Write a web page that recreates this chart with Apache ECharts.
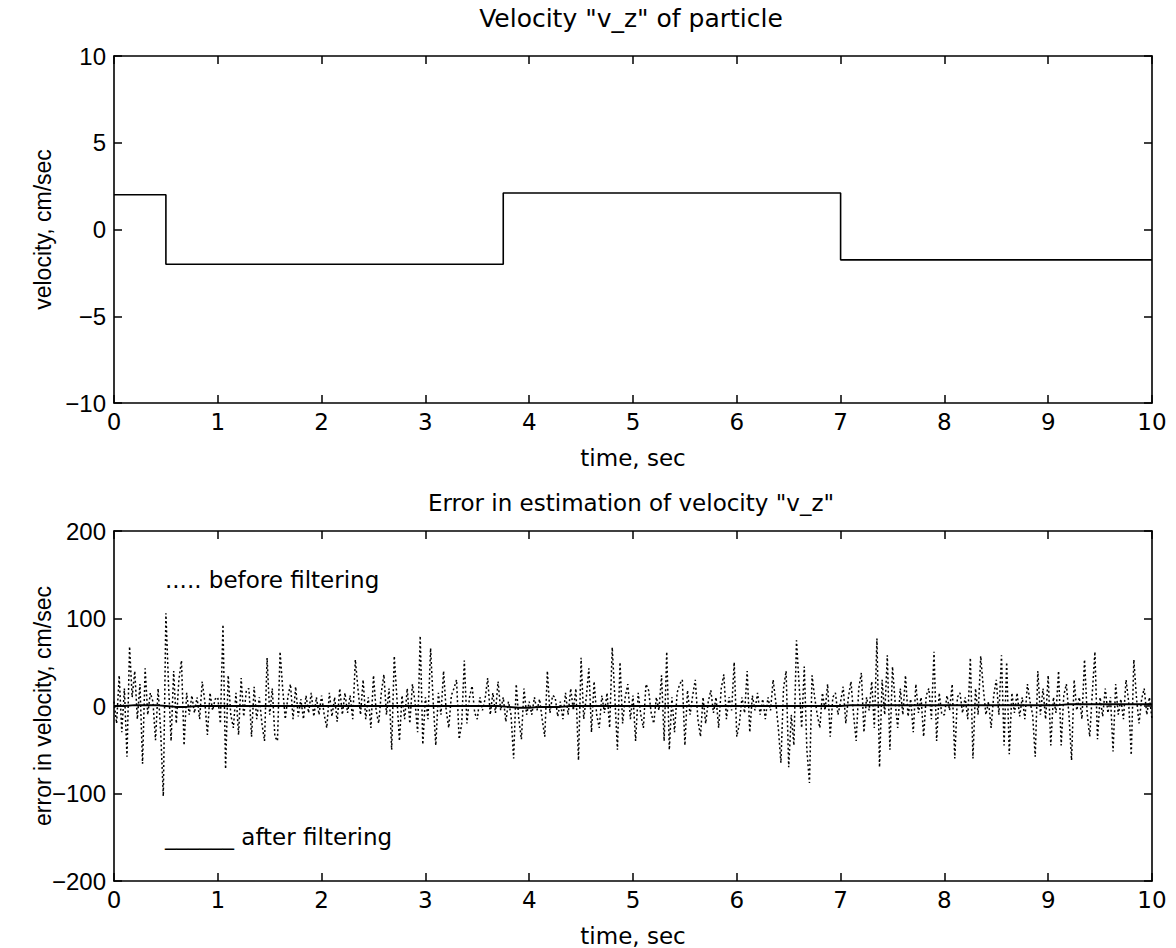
<!DOCTYPE html>
<html>
<head>
<meta charset="utf-8">
<script src="https://cdn.jsdelivr.net/npm/echarts@6/dist/echarts.min.js"></script>
<style>
html,body{margin:0;padding:0;background:#ffffff;}
#chart{width:1176px;height:948px;}
</style>
</head>
<body>
<div id="chart"></div>
<script>
// ---------------- data ----------------
const titleTop = 'Velocity "v_z" of particle';
const titleBottom = 'Error in estimation of velocity "v_z"';
const xAxisName = 'time, sec';
const yNameTop = 'velocity, cm/sec';
const yNameBottom = 'error in velocity, cm/sec';
const noteBefore = '..... before filtering';
const noteAfter = '______ after filtering';

const xTickValues = [0, 1, 2, 3, 4, 5, 6, 7, 8, 9, 10];
const yTopTicks = [-10, -5, 0, 5, 10];
const yBottomTicks = [-200, -100, 0, 100, 200];

// velocity v_z (step changes) : breakpoints and levels
const stepTimes  = [0, 0.5, 3.75, 7.0, 10];
const stepValues = [2, -2, 2.1, -1.75, -1.75];

// error before filtering, sampled every 0.025 s (t = 0 ... 10)
const noiseStep = 0.025;
const errBefore = [
  5,-20,35,-30,20,-58,68,10,40,-15,25,-66,43,-10,15,5,-39,20,-30,-103,
  106,25,-40,40,-20,30,52,-45,15,-10,12,-8,10,-15,28,5,-33,15,-5,8,
  10,-20,93,-72,35,-10,-25,15,-33,32,-12,18,20,-35,22,-15,10,-20,-40,55,
  -10,20,-35,-40,62,20,-15,10,25,-15,22,-12,8,-15,12,-8,15,-12,10,-10,
  12,-10,-25,15,-12,10,-18,20,-10,15,-8,12,-15,53,20,-10,30,-15,10,-25,
  35,-5,-20,15,36,-10,20,-50,57,10,-40,12,-15,20,-20,25,5,-30,80,-44,
  10,-15,66,5,-45,15,-10,40,-5,-25,12,20,30,-38,-20,52,-20,10,23,-8,
  -15,10,-5,8,32,-10,15,-8,28,-5,10,-18,5,-10,-60,25,-15,-38,20,-10,
  5,-10,10,-5,8,-15,-35,40,-8,12,10,-12,5,-15,15,-10,20,-5,20,-62,
  55,-15,10,43,-30,28,-10,-25,12,-8,15,-25,67,10,-50,50,-20,10,25,-15,
  12,-40,15,-10,-25,25,18,-8,-20,10,-5,35,-40,62,-50,10,-30,15,25,30,
  -45,18,-10,12,30,-15,-35,10,-20,5,18,-8,10,-25,20,36,-15,10,-5,50,
  -35,-20,10,-8,40,-30,12,-5,15,-10,8,-15,10,-5,30,5,-25,-65,20,40,
  -70,-10,-45,75,25,-25,45,-50,-88,35,10,-10,-25,15,-5,25,-35,10,15,-10,
  5,22,-20,10,28,-10,-40,20,38,-30,10,-5,28,-25,77,-70,30,-10,58,-50,
  45,5,-25,20,-10,35,-12,8,-30,25,-8,10,-35,12,20,-15,62,-40,15,-10,
  -10,12,-5,25,-60,10,15,-8,10,-15,55,-60,20,-10,57,20,-10,5,-25,12,
  30,-10,58,-45,50,-55,15,-8,15,-12,10,-15,25,5,-10,-58,40,-10,20,-15,
  35,-45,10,-8,40,-45,12,25,-10,-62,30,-5,10,-15,53,-8,-35,15,62,-38,
  10,-12,20,-8,10,-52,25,-10,8,-15,30,5,-56,53,10,-20,8,20,-10,10,
  -15
];

// error after filtering, sampled every 0.1 s (t = 0 ... 10)
const filterStep = 0.1;
const errAfter = [
  0,0,1,1,1,0,-1,-1,0,0,
  0,0,0,0,0,0,0,0,0,0,
  0,0,0,0,0,0,0,0,0,0,
  0,0,0,0,0,0,0,0,-1,-2,
  -2,-1,-1,-1,0,0,0,0,0,0,
  0,0,0,0,0,0,0,0,0,0,
  0,0,0,0,0,0,0,0,0,0,
  0,1,1,1,1,1,1,1,1,1,
  1,1,1,1,1,1,1,1,1,1,
  1,1,2,2,2,2,2,2,2,2,
  2
];

// ---------------- chart ----------------
const FONT = '"DejaVu Sans", Verdana, sans-serif';
const FONT_V = '"Liberation Sans", Arial, Helvetica, sans-serif';
const chart = echarts.init(document.getElementById('chart'), null, {renderer: 'svg', width: 1176, height: 948});

const G0 = {left: 114, top: 56, width: 1038, height: 347};
const G1 = {left: 114, top: 531, width: 1038, height: 350};
const CX = 631;

function fmtNum(v) { return v < 0 ? '\u2212' + Math.abs(v) : String(v); }

function xAx(gi, pos, labels) {
  return {
    type: 'value', gridIndex: gi, position: pos,
    min: xTickValues[0], max: xTickValues[xTickValues.length - 1],
    interval: xTickValues[1] - xTickValues[0],
    axisLine: {show: true, onZero: false, lineStyle: {color: '#000', width: 1.6}},
    axisTick: {show: true, inside: true, length: 8, lineStyle: {color: '#000', width: 1.5}},
    axisLabel: {show: labels, color: '#000', fontSize: 23, fontFamily: FONT, margin: 7, formatter: fmtNum},
    splitLine: {show: false},
    name: labels ? xAxisName : '', nameLocation: 'middle', nameGap: 43, nameMoveOverlap: false,
    nameTextStyle: {color: '#000', fontSize: 23, fontFamily: FONT}
  };
}
function yAx(gi, pos, labels, ticks, name) {
  return {
    type: 'value', gridIndex: gi, position: pos,
    min: ticks[0], max: ticks[ticks.length - 1], interval: ticks[1] - ticks[0],
    axisLine: {show: true, onZero: false, lineStyle: {color: '#000', width: 1.6}},
    axisTick: {show: true, inside: true, length: 8, lineStyle: {color: '#000', width: 1.5}},
    axisLabel: {show: labels, color: '#000', fontSize: 24, fontFamily: FONT_V, margin: 8, formatter: fmtNum},
    splitLine: {show: false},
    name: labels ? name : '', nameLocation: 'middle', nameGap: 60, nameRotate: 90, nameMoveOverlap: false,
    nameTextStyle: {color: '#000', fontSize: 23, fontFamily: FONT_V}
  };
}

const stepData = stepTimes.map((t, i) => [t, stepValues[i]]);
const beforeData = errBefore.map((v, i) => [+(i * noiseStep).toFixed(3), v]);
const afterData = errAfter.map((v, i) => [+(i * filterStep).toFixed(2), v]);

const option = {
  animation: false,
  backgroundColor: '#ffffff',
  grid: [
    Object.assign({containLabel: false}, G0),
    Object.assign({containLabel: false}, G1)
  ],
  xAxis: [xAx(0, 'bottom', true), xAx(0, 'top', false), xAx(1, 'bottom', true), xAx(1, 'top', false)],
  yAxis: [
    yAx(0, 'left', true, yTopTicks, yNameTop), yAx(0, 'right', false, yTopTicks, ''),
    yAx(1, 'left', true, yBottomTicks, yNameBottom), yAx(1, 'right', false, yBottomTicks, '')
  ],
  graphic: [
    {type: 'text', x: CX, y: 18,
     style: {text: titleTop, fill: '#000', font: '25px ' + FONT, textAlign: 'center', textVerticalAlign: 'middle'}},
    {type: 'text', x: CX, y: 503,
     style: {text: titleBottom, fill: '#000', font: '23px ' + FONT, textAlign: 'center', textVerticalAlign: 'middle'}},
    {type: 'text', x: 165, y: 580,
     style: {text: noteBefore, fill: '#000', font: '23px ' + FONT, textAlign: 'left', textVerticalAlign: 'middle'}},
    {type: 'text', x: 165, y: 837,
     style: {text: noteAfter, fill: '#000', font: '23px ' + FONT, textAlign: 'left', textVerticalAlign: 'middle'}}
  ],
  series: [
    {type: 'line', xAxisIndex: 0, yAxisIndex: 0, data: stepData, step: 'end',
     symbol: 'none', lineStyle: {color: '#000', width: 1.6}},
    {type: 'line', xAxisIndex: 2, yAxisIndex: 2, data: beforeData,
     symbol: 'none', lineStyle: {color: '#000', width: 1.5, type: [2, 2.5]}},
    {type: 'line', xAxisIndex: 2, yAxisIndex: 2, data: afterData,
     symbol: 'none', lineStyle: {color: '#000', width: 2}}
  ]
};
chart.setOption(option);
</script>
</body>
</html>
